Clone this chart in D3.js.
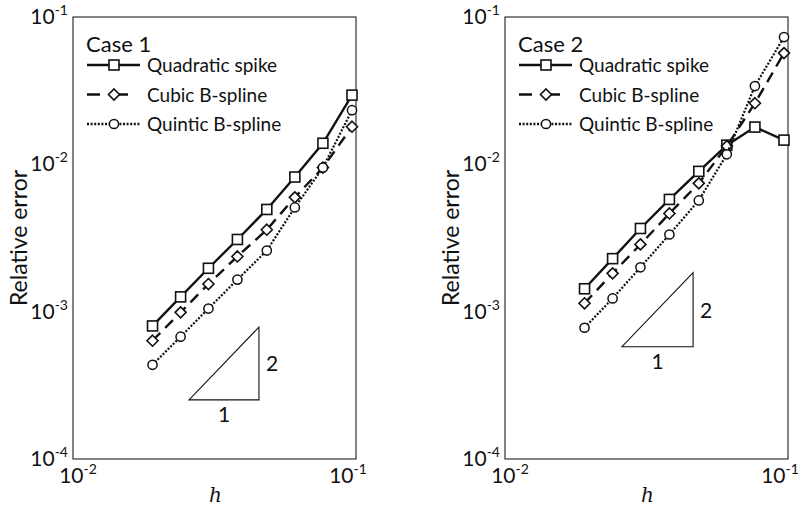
<!DOCTYPE html>
<html>
<head>
<meta charset="utf-8">
<script src="https://cdn.jsdelivr.net/npm/d3@7"></script>
<style>
  body { margin: 0; background: #fff; }
  svg text { font-family: Lato, "Open Sans", sans-serif; fill: #111; }
</style>
</head>
<body>
<svg id="chart" width="801" height="508"></svg>
<script>
// mesh sizes (shared by both cases)
var hValues = [0.0191, 0.0240, 0.0301, 0.0381, 0.0484, 0.0608, 0.0764, 0.0968];

// Case 1
var quad1  = [8.0e-4, 1.26e-3, 1.97e-3, 3.09e-3, 4.94e-3, 8.2e-3, 1.39e-2, 2.95e-2];
var cubic1 = [6.35e-4, 9.9e-4, 1.54e-3, 2.37e-3, 3.6e-3, 5.97e-3, 9.5e-3, 1.8e-2];
var quint1 = [4.36e-4, 6.76e-4, 1.05e-3, 1.65e-3, 2.6e-3, 5.1e-3, 9.5e-3, 2.33e-2];

// Case 2
var quad2  = [1.43e-3, 2.29e-3, 3.67e-3, 5.78e-3, 8.96e-3, 1.35e-2, 1.79e-2, 1.46e-2];
var cubic2 = [1.14e-3, 1.82e-3, 2.86e-3, 4.64e-3, 7.43e-3, 1.33e-2, 2.6e-2, 5.69e-2];
var quint2 = [7.78e-4, 1.23e-3, 2.0e-3, 3.34e-3, 5.69e-3, 1.17e-2, 3.4e-2, 7.31e-2];

// slope-2 triangles: [h start, h end, error at base]
var tri1 = [0.0257, 0.0454, 2.52e-4];
var tri2 = [0.0259, 0.0462, 5.78e-4];

var seriesNames = ["Quadratic spike", "Cubic B-spline", "Quintic B-spline"];
var xTicks = [-2, -1];
var yTicks = [-4, -3, -2, -1];

var svg = d3.select("#chart");

// line style for each series
var styles = [
    { dash: null,    width: 2.4, marker: "square" },
    { dash: "11,7",  width: 2.4, marker: "diamond" },
    { dash: "2,1.6", width: 2.2, marker: "circle" }
];

function drawMarker(g, type, x, y) {
    if (type === "square") {
        g.append("rect")
            .attr("x", x - 5).attr("y", y - 5)
            .attr("width", 10).attr("height", 10)
            .attr("fill", "#fff").attr("stroke", "#111").attr("stroke-width", 1.6);
    } else if (type === "diamond") {
        g.append("path")
            .attr("d", "M" + x + "," + (y - 5.5) + "L" + (x + 5.5) + "," + y +
                       "L" + x + "," + (y + 5.5) + "L" + (x - 5.5) + "," + y + "Z")
            .attr("fill", "#fff").attr("stroke", "#111").attr("stroke-width", 1.6);
    } else {
        g.append("circle")
            .attr("cx", x).attr("cy", y).attr("r", 4.6)
            .attr("fill", "#fff").attr("stroke", "#111").attr("stroke-width", 1.5);
    }
}

function drawPanel(left, caseLabel, series, tri) {
    var top = 17, bottom = 459, right = left + 283;

    var x = d3.scaleLog().domain([0.01, 0.1]).range([left, right]);
    var y = d3.scaleLog().domain([1e-4, 1e-1]).range([bottom, top]);

    var g = svg.append("g");

    // frame
    g.append("rect")
        .attr("x", left).attr("y", top)
        .attr("width", right - left).attr("height", bottom - top)
        .attr("fill", "none").attr("stroke", "#333").attr("stroke-width", 1.2);

    // y tick labels
    yTicks.forEach(function (p) {
        var t = g.append("text")
            .attr("x", left - 5).attr("y", y(Math.pow(10, p)) + 7)
            .attr("text-anchor", "end")
            .style("font-size", "21px");
        t.append("tspan").text("10");
        t.append("tspan").attr("dy", -9).style("font-size", "14px").text(String(p));
    });

    // x tick labels (the right one sits a bit left of its tick so it stays on the page)
    xTicks.forEach(function (p) {
        var t = g.append("text")
            .attr("x", x(Math.pow(10, p)) + (p === -2 ? 5 : -8)).attr("y", 483)
            .attr("text-anchor", "middle")
            .style("font-size", "21px");
        t.append("tspan").text("10");
        t.append("tspan").attr("dy", -9).style("font-size", "14px").text(String(p));
    });

    // axis titles
    g.append("text")
        .attr("transform", "translate(" + (left - 46) + ",238) rotate(-90)")
        .attr("text-anchor", "middle")
        .style("font-size", "23px")
        .text("Relative error");

    g.append("text")
        .attr("x", (left + right) / 2 + 1).attr("y", 502)
        .attr("text-anchor", "middle")
        .style("font-family", "'DejaVu Serif', 'Liberation Serif', serif")
        .style("font-style", "italic")
        .style("font-size", "20px")
        .text("h");

    // slope triangle
    var tx0 = x(tri[0]), tx1 = x(tri[1]);
    var ty0 = y(tri[2]), ty1 = y(tri[2] * Math.pow(tri[1] / tri[0], 2));
    g.append("path")
        .attr("d", "M" + tx0 + "," + ty0 + "L" + tx1 + "," + ty0 + "L" + tx1 + "," + ty1 + "Z")
        .attr("fill", "none").attr("stroke", "#111").attr("stroke-width", 1.1);
    g.append("text")
        .attr("x", (tx0 + tx1) / 2).attr("y", ty0 + 22)
        .attr("text-anchor", "middle").style("font-size", "21px").text("1");
    g.append("text")
        .attr("x", tx1 + 7).attr("y", (ty0 + ty1) / 2 + 8)
        .style("font-size", "21px").text("2");

    // series
    var line = d3.line()
        .x(function (d) { return x(d[0]); })
        .y(function (d) { return y(d[1]); });

    series.forEach(function (vals, i) {
        var pts = hValues.map(function (h, k) { return [h, vals[k]]; });
        g.append("path")
            .attr("d", line(pts))
            .attr("fill", "none")
            .attr("stroke", "#111")
            .attr("stroke-width", styles[i].width)
            .attr("stroke-dasharray", styles[i].dash);
        pts.forEach(function (p) {
            drawMarker(g, styles[i].marker, x(p[0]), y(p[1]));
        });
    });

    // legend
    var lx = left + 13;
    g.append("text")
        .attr("x", lx).attr("y", 52)
        .style("font-size", "22px")
        .text(caseLabel);

    seriesNames.forEach(function (name, i) {
        var ly = 65 + i * 29.5;
        g.append("line")
            .attr("x1", lx + 1).attr("x2", lx + 54)
            .attr("y1", ly).attr("y2", ly)
            .attr("stroke", "#111")
            .attr("stroke-width", styles[i].width + 0.3)
            .attr("stroke-dasharray", i === 1 ? "13,15" : styles[i].dash);
        drawMarker(g, styles[i].marker, lx + 28, ly);
        g.append("text")
            .attr("x", lx + 61).attr("y", ly + 7)
            .style("font-size", "19px")
            .text(name);
    });
}

drawPanel(73, "Case 1", [quad1, cubic1, quint1], tri1);
drawPanel(505, "Case 2", [quad2, cubic2, quint2], tri2);
</script>
</body>
</html>
